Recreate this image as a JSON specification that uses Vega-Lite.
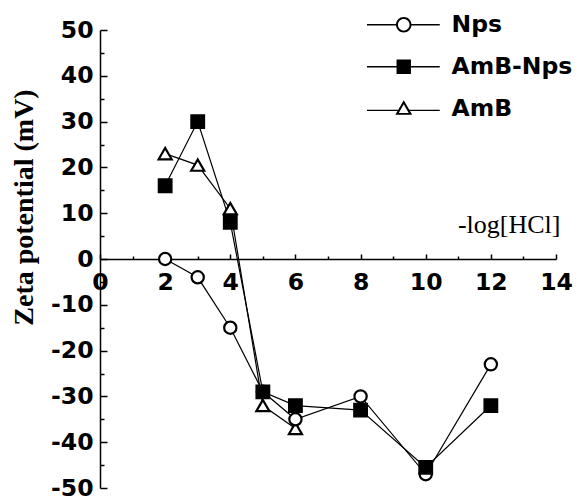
{
  "$schema": "https://vega.github.io/schema/vega-lite/v6.json",
  "width": 456,
  "height": 458,
  "autosize": "none",
  "padding": {"left": 100, "top": 30, "right": 23, "bottom": 10},
  "background": "white",
  "config": {
    "view": {"stroke": null},
    "axis": {
      "grid": false,
      "domainColor": "black",
      "tickColor": "black",
      "labelColor": "black",
      "titleColor": "black",
      "labelFont": "DejaVu Sans",
      "labelFontWeight": "bold",
      "labelFontSize": 23.5,
      "domainWidth": 1.5,
      "tickWidth": 1.5
    }
  },
  "data": {
    "values": [
      {"series": "AmB", "x": 2, "y": 23},
      {"series": "AmB", "x": 3, "y": 20.5},
      {"series": "AmB", "x": 4, "y": 11},
      {"series": "AmB", "x": 5, "y": -32},
      {"series": "AmB", "x": 6, "y": -37},
      {"series": "Nps", "x": 2, "y": 0},
      {"series": "Nps", "x": 3, "y": -4},
      {"series": "Nps", "x": 4, "y": -15},
      {"series": "Nps", "x": 5, "y": -29},
      {"series": "Nps", "x": 6, "y": -35},
      {"series": "Nps", "x": 8, "y": -30},
      {"series": "Nps", "x": 10, "y": -47},
      {"series": "Nps", "x": 12, "y": -23},
      {"series": "AmB-Nps", "x": 2, "y": 16},
      {"series": "AmB-Nps", "x": 3, "y": 30},
      {"series": "AmB-Nps", "x": 4, "y": 8},
      {"series": "AmB-Nps", "x": 5, "y": -29},
      {"series": "AmB-Nps", "x": 6, "y": -32},
      {"series": "AmB-Nps", "x": 8, "y": -33},
      {"series": "AmB-Nps", "x": 10, "y": -45.5},
      {"series": "AmB-Nps", "x": 12, "y": -32}
    ]
  },
  "encoding": {
    "x": {
      "field": "x", "type": "quantitative",
      "scale": {"domain": [0, 14], "nice": false, "zero": false},
      "axis": {
        "orient": "bottom",
        "values": [0, 1, 2, 3, 4, 5, 6, 7, 8, 9, 10, 11, 12, 13, 14],
        "offset": -229,
        "tickSize": {"condition": {"test": "datum.value % 2 === 0", "value": -5}, "value": -3},
        "labelPadding": 16,
        "labelFlush": false,
        "labelOverlap": false,
        "labelExpr": "datum.value % 2 === 0 ? '' + datum.value : ''",
        "title": "-log[HCl]",
        "titleFont": "Liberation Serif",
        "titleFontSize": 26,
        "titleFontWeight": "normal",
        "titleAnchor": "end",
        "titleAlign": "right",
        "titleBaseline": "alphabetic",
        "titleX": 460,
        "titleY": -27
      }
    },
    "y": {
      "field": "y", "type": "quantitative",
      "scale": {"domain": [-50, 50], "nice": false, "zero": false},
      "axis": {
        "orient": "left",
        "values": [-50, -45, -40, -35, -30, -25, -20, -15, -10, -5, 0, 5, 10, 15, 20, 25, 30, 35, 40, 45, 50],
        "tickSize": {"condition": {"test": "datum.value % 10 === 0", "value": -7}, "value": -4},
        "labelPadding": 14,
        "labelFlush": false,
        "labelOverlap": false,
        "labelExpr": "datum.value % 10 === 0 ? '' + datum.value : ''",
        "title": "Zeta potential (mV)",
        "titleFont": "Liberation Serif",
        "titleFontSize": 28,
        "titleFontWeight": "bold",
        "titleAngle": -90,
        "titleAlign": "center",
        "titleBaseline": "middle",
        "titleX": -76,
        "titleY": 177
      }
    }
  },
  "resolve": {"scale": {"shape": "independent"}},
  "layer": [
    {
      "mark": {"type": "line", "color": "black", "strokeWidth": 1.2},
      "encoding": {
        "detail": {"field": "series"}
      }
    },
    {
      "mark": {"type": "point", "stroke": "black", "strokeWidth": 2.2, "opacity": 1},
      "encoding": {
        "shape": {
          "field": "series", "type": "nominal",
          "scale": {"domain": ["Nps", "AmB-Nps", "AmB"], "range": ["circle", "square", "triangle-up"]},
          "legend": null
        },
        "fill": {
          "field": "series", "type": "nominal",
          "scale": {"domain": ["Nps", "AmB-Nps", "AmB"], "range": ["white", "black", "white"]},
          "legend": null
        },
        "size": {
          "field": "series", "type": "nominal",
          "scale": {"domain": ["Nps", "AmB-Nps", "AmB"], "range": [150, 170, 250]},
          "legend": null
        }
      }
    },
    {
      "transform": [{"filter": "datum.x > 100"}],
      "mark": {"type": "point", "filled": true, "color": "black", "opacity": 1},
      "encoding": {
        "shape": {
          "field": "series", "type": "nominal",
          "scale": {
            "domain": ["Nps", "AmB-Nps", "AmB"],
            "range": [
              "M-4.6,-0.08H-0.8V0.08H-4.6ZM0.8,-0.08H4.5V0.08H0.8ZM-0.97,0A0.97,0.97 0 1,1 0.97,0A0.97,0.97 0 1,1 -0.97,0ZM-0.72,0A0.72,0.72 0 1,0 0.72,0A0.72,0.72 0 1,0 -0.72,0Z",
              "M-4.6,-0.08H-0.8V0.08H-4.6ZM0.8,-0.08H4.5V0.08H0.8ZM-0.9,-0.9H0.9V0.9H-0.9Z",
              "M-4.6,0.12H-0.6V0.28H-4.6ZM0.6,0.12H4.5V0.28H0.6ZM0,-1.05L1.05,0.75L-1.05,0.75ZM0,-0.55L-0.62,0.52L0.62,0.52Z"
            ]
          },
          "legend": {
            "orient": "none",
            "legendX": 292,
            "legendY": -17,
            "title": null,
            "padding": 0,
            "symbolSize": 256,
            "symbolStrokeWidth": 0,
            "symbolFillColor": "black",
            "labelFont": "DejaVu Sans",
            "labelFontWeight": "bold",
            "labelFontSize": 23.5,
            "labelColor": "black",
            "labelOffset": 36,
            "rowPadding": 17
          }
        }
      }
    }
  ]
}
